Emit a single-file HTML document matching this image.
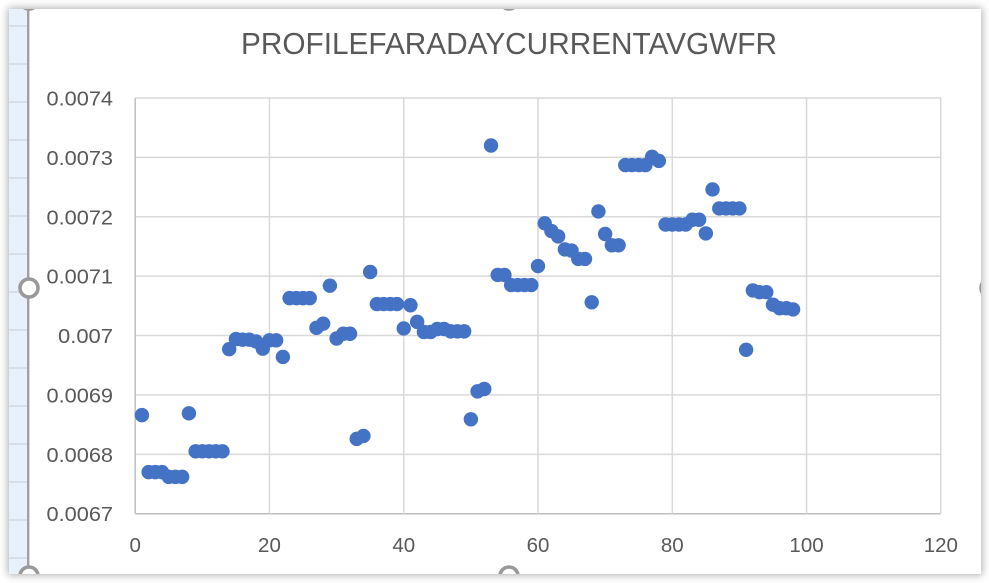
<!DOCTYPE html>
<html lang="en">
<head>
<meta charset="utf-8">
<title>PROFILEFARADAYCURRENTAVGWFR</title>
<style>
html,body{margin:0;padding:0;background:#fff;width:989px;height:583px;overflow:hidden}
#card{position:absolute;left:9px;top:9px;width:972px;height:565px;background:#fff;box-shadow:0 0 8px 1px rgba(0,0,0,.33)}
#chart{position:absolute;left:0;top:0;width:989px;height:583px;font-family:"Liberation Sans",sans-serif}
</style>
</head>
<body>
<div id="card"></div>
<svg id="chart" xmlns="http://www.w3.org/2000/svg" width="989" height="583" viewBox="0 0 989 583">
  <defs><clipPath id="card-clip"><rect x="9" y="9" width="972" height="565"/></clipPath></defs>
  <g id="sheet"></g>
  <rect x="27" y="9" width="2.4" height="565" fill="#a0a0a0"/>
  <text x="509" y="54" text-anchor="middle" font-size="30.5" fill="#595959" textLength="536" lengthAdjust="spacingAndGlyphs">PROFILEFARADAYCURRENTAVGWFR</text>
  <g id="grid"></g>
  <g id="y-labels"></g>
  <g id="x-labels"></g>
  <g id="points"></g>
  <g clip-path="url(#card-clip)">
    <circle cx="29" cy="0" r="9" fill="#fff" stroke="#999" stroke-width="3.6"/>
    <circle cx="509" cy="0" r="9" fill="#fff" stroke="#999" stroke-width="3.6"/>
    <circle cx="29" cy="288" r="9" fill="#fff" stroke="#999" stroke-width="3.6"/>
    <circle cx="990" cy="288" r="9" fill="#fff" stroke="#999" stroke-width="3.6"/>
    <circle cx="29" cy="576" r="9" fill="#fff" stroke="#999" stroke-width="3.6"/>
    <circle cx="509" cy="576" r="9" fill="#fff" stroke="#999" stroke-width="3.6"/>
  </g>
</svg>
<script>
const xValues = [1,2,3,4,5,6,7,8,9,10,11,12,13,14,15,16,17,18,19,20,21,22,23,24,25,26,27,28,29,30,31,32,33,34,35,36,37,38,39,40,41,42,43,44,45,46,47,48,49,50,51,52,53,54,55,56,57,58,59,60,61,62,63,64,65,66,67,68,69,70,71,72,73,74,75,76,77,78,79,80,81,82,83,84,85,86,87,88,89,90,91,92,93,94,95,96,97,98];
const yValues = [0.006866,0.00677,0.00677,0.00677,0.006762,0.006762,0.006762,0.006869,0.006805,0.006805,0.006805,0.006805,0.006805,0.006977,0.006994,0.006993,0.006993,0.00699,0.006978,0.006992,0.006992,0.006964,0.007063,0.007063,0.007063,0.007063,0.007013,0.00702,0.007084,0.006995,0.007003,0.007003,0.006826,0.006831,0.007107,0.007053,0.007053,0.007053,0.007053,0.007012,0.007051,0.007023,0.007006,0.007006,0.007011,0.007011,0.007007,0.007007,0.007007,0.006859,0.006906,0.00691,0.00732,0.007102,0.007102,0.007085,0.007085,0.007085,0.007085,0.007117,0.007189,0.007176,0.007167,0.007145,0.007143,0.007129,0.007129,0.007056,0.007209,0.007171,0.007152,0.007152,0.007287,0.007287,0.007287,0.007287,0.007301,0.007294,0.007187,0.007187,0.007187,0.007187,0.007195,0.007195,0.007172,0.007246,0.007214,0.007214,0.007214,0.007214,0.006976,0.007076,0.007073,0.007073,0.007052,0.007046,0.007046,0.007044];
const xTicks = [0,20,40,60,80,100,120];
const yTicks = [0.0067,0.0068,0.0069,0.007,0.0071,0.0072,0.0073,0.0074];
const yTickLabels = ["0.0067","0.0068","0.0069","0.007","0.0071","0.0072","0.0073","0.0074"];
const sheetRows = [1,2,3,4,5,6,7,8,9,10,11,12,13,14,15];

const NS = 'http://www.w3.org/2000/svg';
const plotLeft = 135.2, plotRight = 940.8, plotTop = 98, plotBottom = 513.7;
const xMin = 0, xMax = 120, yMin = 0.0067, yMax = 0.0074;
function xScale(v){ return plotLeft + (v - xMin) / (xMax - xMin) * (plotRight - plotLeft); }
function yScale(v){ return plotBottom - (v - yMin) / (yMax - yMin) * (plotBottom - plotTop); }
function make(tag, attrs, parent){
  const el = document.createElementNS(NS, tag);
  for (const k in attrs) el.setAttribute(k, attrs[k]);
  parent.appendChild(el);
  return el;
}

const sheet = document.getElementById('sheet');
const strip = make('rect', {x: 9, y: 9, width: 18, height: 565, fill: '#e8f0fa'}, sheet);


sheetRows.forEach(function(r){
  const rowLine = make('rect', {x: 9, y: 25.5 + (r - 1) * 38, width: 18, height: 1, fill: '#c6cbd2'}, sheet);
  
  
});

const grid = document.getElementById('grid');
yTicks.forEach(function(t){
  const y = yScale(t);
  const line = make('line', {x1: plotLeft, x2: plotRight, y1: y, y2: y, stroke: t === yMin ? '#bfbfbf' : '#d9d9d9', 'stroke-width': 1.5}, grid);
  
  
});
xTicks.forEach(function(t){
  const x = xScale(t);
  const line = make('line', {x1: x, x2: x, y1: plotTop, y2: plotBottom, stroke: t === xMin ? '#bfbfbf' : '#d9d9d9', 'stroke-width': 1.5}, grid);
  
  
});

const yLabels = document.getElementById('y-labels');
yTicks.forEach(function(t, i){
  const label = yTickLabels[i];
  const width = label.length === 6 ? 66.5 : 55;
  const el = make('text', {x: 113, y: yScale(t) + 7.5, 'text-anchor': 'end', 'font-size': 20.5, fill: '#595959', textLength: width, lengthAdjust: 'spacingAndGlyphs'}, yLabels);
  el.textContent = label;
  
  
});

const xLabels = document.getElementById('x-labels');
xTicks.forEach(function(t){
  const el = make('text', {x: xScale(t), y: 552, 'text-anchor': 'middle', 'font-size': 20.5, fill: '#595959'}, xLabels);
  el.textContent = String(t);
  
  
});

const points = document.getElementById('points');
xValues.forEach(function(x, i){
  const dot = make('circle', {cx: xScale(x), cy: yScale(yValues[i]), r: 7.2, fill: '#4472c4'}, points);
  
  
});
</script>
</body>
</html>
